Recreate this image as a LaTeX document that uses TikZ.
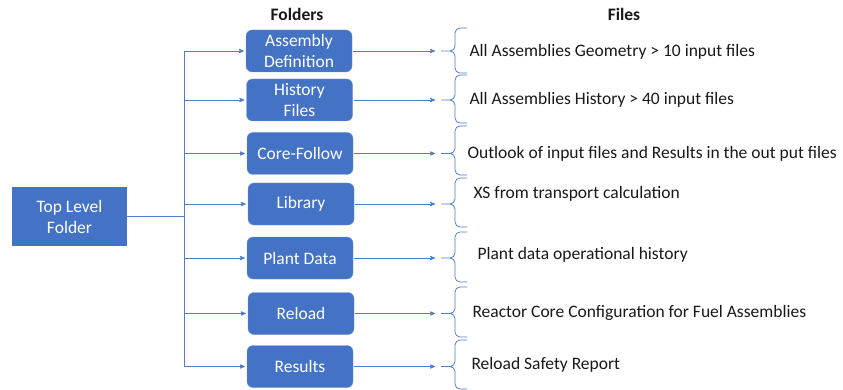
\documentclass[tikz,border=0pt]{standalone}
\usepackage{fontspec}
\setmainfont{Carlito}
\usepackage{tikz}
\usetikzlibrary{arrows}

\begin{document}
\begin{tikzpicture}[x=1pt,y=-1pt,>=stealth',
	folder node/.style={rectangle,rounded corners=6pt,fill=folderblue,draw=folderblue!75!white,text=white,
		minimum width=106pt,minimum height=42pt,align=center,font=\fontsize{17.5}{20.5}\selectfont},
	top node/.style={rectangle,fill=folderblue,text=white,minimum width=115pt,minimum height=59pt,
		align=center,font=\fontsize{17.5}{21}\selectfont},
	file text/.style={anchor=west,text=filetext,font=\fontsize{17.5}{20}\selectfont},
	head text/.style={text=filetext,font=\bfseries\fontsize{17.5}{20}\selectfont},
	line/.style={draw=lineblue,line width=0.8pt},
	link/.style={->,line,shorten >=2pt,shorten <=1pt},
	file brace/.style={draw=lineblue,line width=0.8pt,rounded corners=5pt}]
	
	\definecolor{folderblue}{RGB}{68,114,196}
	\definecolor{lineblue}{RGB}{80,125,200}
	\definecolor{filetext}{RGB}{25,25,25}
	
	\useasboundingbox (0,0) rectangle (843,390);
	
	% titles
	\node[head text] (folders) at (297,14) {Folders};
	\node[head text] (files) at (624,14) {Files};
	
	% folders
	\node[top node] (top) at (69.5,216.5) {Top Level\\Folder};
	\node[folder node] (asm) at (299,51) {Assembly\\Definition};
	\node[folder node] (hist) at (299.5,100) {History\\Files};
	\node[folder node] (core) at (300,153.5) {Core-Follow};
	\node[folder node] (lib) at (301,204) {Library};
	\node[folder node] (plant) at (300,258) {Plant Data};
	\node[folder node] (reload) at (301,313.5) {Reload};
	\node[folder node] (results) at (300,366.5) {Results};
	
	% files
	\node[file text] (geo) at (466,52) {All Assemblies Geometry > 10 input files};
	\node[file text] (histfiles) at (466,100) {All Assemblies History > 40 input files};
	\node[file text] (outlook) at (464,154) {Outlook of input files and Results in the out put files};
	\node[file text] (xs) at (470,194) {XS from transport calculation};
	\node[file text] (ops) at (474,255) {Plant data operational history};
	\node[file text] (config) at (469,313) {Reactor Core Configuration for Fuel Assemblies};
	\node[file text] (report) at (468,365) {Reload Safety Report};
	
	% braces
	\draw[file brace] (467,28) -- (455,28) -- (455,51) -- (441,51) (441,51) -- (455,51) -- (455,73) -- (467,73);
	\draw[file brace] (467,75) -- (455,75) -- (455,100) -- (441,100) (441,100) -- (455,100) -- (455,123) -- (467,123);
	\draw[file brace] (467,126) -- (455,126) -- (455,153.5) -- (441,153.5) (441,153.5) -- (455,153.5) -- (455,175) -- (467,175);
	\draw[file brace] (467,178) -- (455,178) -- (455,204) -- (441,204) (441,204) -- (455,204) -- (455,227) -- (467,227);
	\draw[file brace] (467,232) -- (455,232) -- (455,258) -- (441,258) (441,258) -- (455,258) -- (455,282) -- (467,282);
	\draw[file brace] (467,287) -- (455,287) -- (455,313.5) -- (441,313.5) (441,313.5) -- (455,313.5) -- (455,337) -- (467,337);
	\draw[file brace] (467,340) -- (455,340) -- (455,366.5) -- (441,366.5) (441,366.5) -- (455,366.5) -- (455,389) -- (467,389);
	\coordinate (tip1) at (437,51);
	\coordinate (tip2) at (437,100);
	\coordinate (tip3) at (437,153.5);
	\coordinate (tip4) at (437,204);
	\coordinate (tip5) at (437,258);
	\coordinate (tip6) at (437,313.5);
	\coordinate (tip7) at (437,366.5);
	
	% trunk
	\coordinate (trunk) at (184,216.5);
	\draw[line] (top) -- (trunk);
	\draw[line] (trunk |- asm) -- (trunk |- results);
	\draw[link] (trunk |- asm) -- (asm);
	\draw[link] (trunk |- hist) -- (hist);
	\draw[link] (trunk |- core) -- (core);
	\draw[link] (trunk |- lib) -- (lib);
	\draw[link] (trunk |- plant) -- (plant);
	\draw[link] (trunk |- reload) -- (reload);
	\draw[link] (trunk |- results) -- (results);
	
	% folder to files
	\draw[link] (asm) -- (tip1);
	\draw[link] (hist) -- (tip2);
	\draw[link] (core) -- (tip3);
	\draw[link] (lib) -- (tip4);
	\draw[link] (plant) -- (tip5);
	\draw[link] (reload) -- (tip6);
	\draw[link] (results) -- (tip7);
\end{tikzpicture}
\end{document}
